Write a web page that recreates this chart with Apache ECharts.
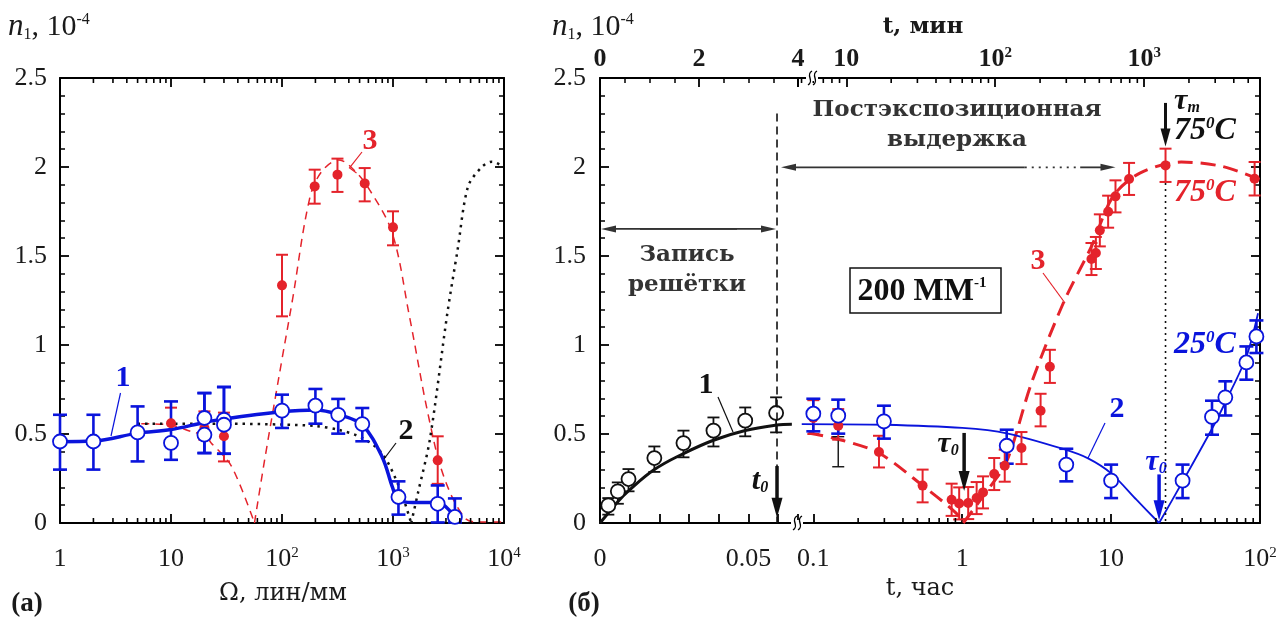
<!DOCTYPE html>
<html>
<head>
<meta charset="utf-8">
<script src="https://cdn.jsdelivr.net/npm/echarts@6/dist/echarts.min.js"></script>
<style>
  html, body { margin: 0; padding: 0; background: #fff; }
  #main { width: 1285px; height: 623px; }
</style>
</head>
<body>
<div id="main"></div>
<script>
// ---------- panel (a): n1 vs spatial frequency, lines/mm ----------
const aBlueX  = [1, 2, 5, 10, 20, 20, 30, 30, 100, 200, 321, 529, 1120, 2528, 3611]
const aBlueY  = [0.458, 0.458, 0.509, 0.45, 0.59, 0.496, 0.58, 0.552, 0.631, 0.659, 0.608, 0.556, 0.146, 0.108, 0.034]
const aBlueLo = [0.30, 0.30, 0.346, 0.355, 0.393, 0.393, 0.389, 0.389, 0.534, 0.558, 0.502, 0.459, 0.047, 0.003, 0.003]
const aBlueHi = [0.608, 0.608, 0.655, 0.683, 0.73, 0.73, 0.764, 0.764, 0.721, 0.753, 0.697, 0.646, 0.234, 0.211, 0.138]

const aRedX  = [10, 20, 30, 100, 197, 316, 556, 1000, 2528]
const aRedY  = [0.56, 0.534, 0.487, 1.335, 1.891, 1.957, 1.908, 1.661, 0.352]
const aRedLo = [0.47, 0.468, 0.346, 1.161, 1.794, 1.86, 1.807, 1.56, 0.22]
const aRedHi = [0.648, 0.627, 0.62, 1.507, 1.985, 2.047, 1.994, 1.751, 0.487]

// curve 1 (blue, solid)
const aFit1X = [1, 2, 5, 10, 20, 30, 100, 200, 321, 529, 800, 990, 1120, 1500, 2528, 3611]
const aFit1Y = [0.457, 0.46, 0.505, 0.525, 0.565, 0.585, 0.625, 0.635, 0.61, 0.55, 0.37, 0.2, 0.13, 0.115, 0.115, 0.033]
// curve 2 (black, dotted) – two branches around the zero
const aFit2LX = [5, 30, 100, 200, 321, 529, 800, 1140, 1459]
const aFit2LY = [0.558, 0.558, 0.553, 0.545, 0.524, 0.478, 0.39, 0.2, 0]
const aFit2RX = [1459, 1680, 2150, 3090, 3820, 4740, 6310, 7800, 10000]
const aFit2RY = [0, 0.17, 0.47, 1.18, 1.535, 1.89, 2.0, 2.03, 2.0]
// curve 3 (red, dashed)
const aFit3LX = [5.4, 10, 15, 20, 23, 35, 56.5]
const aFit3LY = [0.558, 0.55, 0.515, 0.49, 0.45, 0.32, 0]
const aFit3RX = [56.5, 70, 100, 124, 177, 228, 326, 450, 618, 983, 1407, 2088, 2873, 4413, 6000, 10000]
const aFit3RY = [0, 0.36, 0.92, 1.25, 1.82, 1.975, 2.04, 1.98, 1.87, 1.63, 1.16, 0.6, 0.26, 0.03, 0.005, 0.005]

// ---------- panel (б): n1 vs time, hours ----------
// recording stage (linear part)
const bBlackX  = [0.0028, 0.006, 0.0096, 0.0183, 0.0281, 0.0382, 0.0489, 0.0593]
const bBlackY  = [0.099, 0.178, 0.247, 0.365, 0.449, 0.519, 0.575, 0.618]
const bBlackLo = [0.047, 0.108, 0.178, 0.287, 0.369, 0.43, 0.487, 0.509]
const bBlackHi = [0.14, 0.228, 0.303, 0.43, 0.519, 0.593, 0.649, 0.706]
const bFit1X = [0, 0.003, 0.006, 0.0096, 0.0183, 0.0281, 0.0382, 0.0489, 0.0593, 0.0646]
const bFit1Y = [0, 0.06, 0.12, 0.18, 0.3, 0.39, 0.465, 0.52, 0.55, 0.555]

// post-exposure (log part)
const bBlueX  = [0.1, 0.147, 0.298, 1.99, 5.0, 10, 30.2, 47.6, 58.5, 81, 94.6]
const bBlueY  = [0.614, 0.603, 0.571, 0.434, 0.328, 0.238, 0.238, 0.596, 0.706, 0.902, 1.048]
const bBlueLo = [0.515, 0.502, 0.474, 0.333, 0.234, 0.14, 0.14, 0.496, 0.604, 0.805, 0.955]
const bBlueHi = [0.698, 0.693, 0.659, 0.524, 0.417, 0.328, 0.328, 0.687, 0.796, 0.992, 1.138]

const bRedX  = [0.1, 0.147, 0.276, 0.542, 0.849, 0.954, 1.097, 1.25, 1.38, 1.64, 1.93, 2.5, 3.36, 3.88, 7.38, 7.9, 8.4, 9.55, 10.7, 13.2, 23.2, 92]
const bRedY  = [0.59, 0.547, 0.399, 0.21, 0.131, 0.11, 0.112, 0.14, 0.172, 0.275, 0.322, 0.421, 0.631, 0.878, 1.483, 1.517, 1.644, 1.749, 1.835, 1.933, 2.009, 1.934]
const bRedLo = [0.5, 0.468, 0.312, 0.116, 0.04, 0.02, 0.022, 0.05, 0.082, 0.185, 0.232, 0.331, 0.543, 0.787, 1.393, 1.427, 1.554, 1.659, 1.745, 1.843, 1.916, 1.84]
const bRedHi = [0.69, 0.64, 0.49, 0.3, 0.221, 0.2, 0.202, 0.23, 0.262, 0.365, 0.412, 0.511, 0.726, 0.973, 1.573, 1.607, 1.734, 1.839, 1.925, 2.023, 2.103, 2.028]

const bGreyBarX = [0.147], bGreyBarLo = [0.316], bGreyBarHi = [0.485]

const bFit2LX = [0.0836, 0.3, 1, 1.99, 4.76, 7.0, 10, 14.8, 21]
const bFit2LY = [0.556, 0.552, 0.534, 0.504, 0.416, 0.363, 0.279, 0.131, 0]
const bFit2RX = [21, 30.2, 48.4, 59.5, 81, 97]
const bFit2RY = [0, 0.232, 0.541, 0.691, 0.934, 1.178]

const bFit3LX = [0.0926, 0.151, 0.276, 0.55, 0.91, 1.016]
const bFit3LY = [0.506, 0.468, 0.393, 0.206, 0.056, 0]
const bFit3RX = [1.016, 1.46, 1.99, 2.92, 4.8, 7.38, 10.3, 15.6, 29.6, 56, 100]
const bFit3RY = [0, 0.178, 0.346, 0.787, 1.24, 1.554, 1.835, 1.966, 2.028, 2.003, 1.929]

// minor tick positions for the log axes
const aMinorTicks = [2, 3, 4, 5, 6, 7, 8, 9, 20, 30, 40, 50, 60, 70, 80, 90,
  200, 300, 400, 500, 600, 700, 800, 900, 2000, 3000, 4000, 5000, 6000, 7000, 8000, 9000]
const bMinorTicksH = [0.2, 0.3, 0.4, 0.5, 0.6, 0.7, 0.8, 0.9, 2, 3, 4, 5, 6, 7, 8, 9, 20, 30, 40, 50, 60, 70, 80, 90]
const bMinorTicksMin = [5, 6, 7, 8, 9, 20, 30, 40, 50, 60, 70, 80, 90, 200, 300, 400, 500, 600, 700, 800, 900, 2000, 3000, 4000, 5000]

const BLUE = "#0a14dc"
const RED = "#e4232b"
const BLACK = "#111111"
const SERIF = "Liberation Serif"
const WIDE = "DejaVu Serif"

const zip = (xs, ys) => xs.map((x, i) => [x, ys[i]])
const zip3 = (xs, lo, hi) => xs.map((x, i) => [x, lo[i], hi[i]])

function errRender(color, w, cap) {
  return function (params, api) {
    const x = api.value(0)
    const top = api.coord([x, api.value(2)])
    const bot = api.coord([x, api.value(1)])
    const st = { stroke: color, lineWidth: w }
    return {
      type: "group",
      children: [
        { type: "line", shape: { x1: top[0], y1: top[1], x2: bot[0], y2: bot[1] }, style: st },
        { type: "line", shape: { x1: top[0] - cap, y1: top[1], x2: top[0] + cap, y2: top[1] }, style: st },
        { type: "line", shape: { x1: bot[0] - cap, y1: bot[1], x2: bot[0] + cap, y2: bot[1] }, style: st }
      ]
    }
  }
}

function tickRender(yVal, dir) {
  return function (params, api) {
    const p = api.coord([api.value(0), yVal])
    return {
      type: "line",
      shape: { x1: p[0], y1: p[1], x2: p[0], y2: p[1] + dir * 5 },
      style: { stroke: "#000", lineWidth: 1.6 }
    }
  }
}

function logLabel(v) {
  const k = Math.round(Math.log10(v))
  if (Math.abs(Math.log10(v) - k) > 1e-6) return ""
  if (k === -1) return "0.1"
  if (k === 0) return "1"
  if (k === 1) return "10"
  return "10{s|" + k + "}"
}

const axisLineStyle = { lineStyle: { color: "#000", width: 2 } }
const tickIn = { inside: true, length: 9, lineStyle: { color: "#000", width: 1.8 } }
const minorIn = { show: true, splitNumber: 5, length: 5, lineStyle: { color: "#000", width: 1.5 } }
const labelFont = { fontFamily: SERIF, fontSize: 26, color: "#1a1a1a" }
const supRich = { s: { fontFamily: SERIF, fontSize: 15, verticalAlign: "top", color: "#1a1a1a" } }
const supRichBold = { s: { fontFamily: SERIF, fontSize: 15, fontWeight: "bold", verticalAlign: "top", color: "#1a1a1a" } }

const xAxes = [
  // 0: (a) bottom
  { type: "log", gridIndex: 0, min: 1, max: 10000, position: "bottom",
    axisLine: { onZero: false, ...axisLineStyle }, axisTick: tickIn, splitLine: { show: false },
    axisLabel: { ...labelFont, margin: 23, formatter: logLabel, rich: supRich } },
  // 1: (a) top
  { type: "log", gridIndex: 0, min: 1, max: 10000, position: "top",
    axisLine: { onZero: false, ...axisLineStyle }, axisTick: tickIn, splitLine: { show: false },
    axisLabel: { show: false } },
  // 2: (б) bottom, linear hours
  { type: "value", gridIndex: 1, min: 0, max: 4 / 60, interval: 0.01, position: "bottom",
    axisLine: { onZero: false, ...axisLineStyle }, axisTick: tickIn, splitLine: { show: false },
    axisLabel: { ...labelFont, margin: 23, showMaxLabel: false,
      formatter: v => (v === 0 ? "0" : Math.abs(v - 0.05) < 1e-9 ? "0.05" : "") } },
  // 3: (б) top, linear minutes
  { type: "value", gridIndex: 1, min: 0, max: 4, interval: 2, position: "top",
    axisLine: { onZero: false, ...axisLineStyle }, axisTick: tickIn,
    minorTick: { ...minorIn, splitNumber: 4 }, splitLine: { show: false },
    axisLabel: { ...labelFont, fontWeight: "bold", margin: 6 } },
  // 4: (б) bottom, log hours
  { type: "log", gridIndex: 2, min: 0.0789, max: 100, position: "bottom",
    axisLine: { onZero: false, ...axisLineStyle }, axisTick: tickIn, splitLine: { show: false },
    axisLabel: { ...labelFont, margin: 23, interval: 0, formatter: logLabel, rich: supRich } },
  // 5: (б) top, log minutes
  { type: "log", gridIndex: 2, min: 0.0789 * 60, max: 6000, position: "top",
    axisLine: { onZero: false, ...axisLineStyle }, axisTick: tickIn, splitLine: { show: false },
    axisLabel: { ...labelFont, fontWeight: "bold", margin: 6, interval: 0,
      formatter: v => { const t = logLabel(v); return t === "1" ? "" : t }, rich: supRichBold } }
]

const yBase = { type: "value", min: 0, max: 2.5, interval: 0.5, splitLine: { show: false },
  axisLine: { show: true, onZero: false, ...axisLineStyle }, axisTick: tickIn, minorTick: minorIn }
const yAxes = [
  { ...yBase, gridIndex: 0, position: "left", axisLabel: { ...labelFont, margin: 13 } },
  { ...yBase, gridIndex: 0, position: "right", axisLabel: { show: false } },
  { ...yBase, gridIndex: 1, position: "left", axisLabel: { ...labelFont, margin: 14 } },
  { ...yBase, gridIndex: 2, position: "right", axisLabel: { show: false } }
]

function line(id, xi, yi, data, color, width, type, smooth) {
  return { id, type: "line", xAxisIndex: xi, yAxisIndex: yi, data, symbol: "none", smooth: smooth,
    lineStyle: { color, width, type }, silent: true, z: 2 }
}
function bars(xi, yi, data, color, w, cap) {
  return { type: "custom", xAxisIndex: xi, yAxisIndex: yi, data, renderItem: errRender(color, w, cap),
    encode: { x: 0, y: [1, 2] }, clip: false, silent: true, z: 3 }
}
function openPts(xi, yi, data, color, size) {
  return { type: "scatter", xAxisIndex: xi, yAxisIndex: yi, data, symbol: "circle", symbolSize: size,
    itemStyle: { color: "#fff", borderColor: color, borderWidth: 1.8, opacity: 1 }, silent: true, z: 5 }
}
function dotPts(xi, yi, data, color, size) {
  return { type: "scatter", xAxisIndex: xi, yAxisIndex: yi, data, symbol: "circle", symbolSize: size,
    itemStyle: { color, opacity: 1 }, silent: true, z: 5 }
}
function ticks(xi, yi, vals, yVal, dir) {
  return { type: "custom", xAxisIndex: xi, yAxisIndex: yi, data: vals.map(v => [v, yVal]),
    renderItem: tickRender(yVal, dir), encode: { x: 0, y: 1 }, clip: false, silent: true, z: 6 }
}

const series = [
  // panel (a)
  line("aRef", 0, 0, zip(aFit3LX, aFit3LY), RED, 1.5, [8, 6], 0.3),
  line(null, 0, 0, zip(aFit3RX, aFit3RY), RED, 1.5, [8, 6], 0.35),
  line(null, 0, 0, zip(aFit2LX, aFit2LY), BLACK, 2.5, [2.5, 5], 0.3),
  line(null, 0, 0, zip(aFit2RX, aFit2RY), BLACK, 2.5, [2.5, 5], 0.3),
  line(null, 0, 0, zip(aFit1X, aFit1Y), BLUE, 3.5, "solid", 0.35),
  bars(0, 0, zip3(aRedX, aRedLo, aRedHi), RED, 2, 6),
  bars(0, 0, zip3(aBlueX, aBlueLo, aBlueHi), BLUE, 2.6, 7),
  dotPts(0, 0, zip(aRedX, aRedY), RED, 10),
  openPts(0, 0, zip(aBlueX, aBlueY), BLUE, 14),
  ticks(0, 0, aMinorTicks, 0, -1),
  ticks(1, 0, aMinorTicks, 2.5, 1),
  // panel (б), linear part
  line("b1Ref", 2, 2, zip(bFit1X, bFit1Y), BLACK, 3, "solid", 0.4),
  bars(2, 2, zip3(bBlackX, bBlackLo, bBlackHi), BLACK, 1.8, 6),
  openPts(2, 2, zip(bBlackX, bBlackY), BLACK, 14),
  // panel (б), log part
  line("b2Ref", 4, 3, zip(bFit3LX, bFit3LY), RED, 3, [15, 8], 0.3),
  line(null, 4, 3, zip(bFit3RX, bFit3RY), RED, 3, [15, 8], 0.3),
  line(null, 4, 3, zip(bFit2LX, bFit2LY), BLUE, 1.8, "solid", 0.3),
  line(null, 4, 3, zip(bFit2RX, bFit2RY), BLUE, 1.8, "solid", 0.3),
  bars(4, 3, zip3(bGreyBarX, bGreyBarLo, bGreyBarHi), BLACK, 1.4, 6),
  bars(4, 3, zip3(bRedX, bRedLo, bRedHi), RED, 2, 6),
  bars(4, 3, zip3(bBlueX, bBlueLo, bBlueHi), BLUE, 2.6, 7),
  dotPts(4, 3, zip(bRedX, bRedY), RED, 10),
  openPts(4, 3, zip(bBlueX, bBlueY), BLUE, 14),
  ticks(4, 3, bMinorTicksH, 0, -1),
  ticks(5, 3, bMinorTicksMin, 2.5, 1)
]

const chart = echarts.init(document.getElementById("main"), null, { renderer: "canvas" })
chart.setOption({
  animation: false,
  backgroundColor: "#fff",
  grid: [
    { left: 60, top: 78, width: 444, height: 445 },
    { left: 600, top: 78, width: 198, height: 445 },
    { left: 798, top: 78, width: 462, height: 445 }
  ],
  xAxis: xAxes,
  yAxis: yAxes,
  series: series
})

// ---------- annotations ----------
const P = (id, x, y) => chart.convertToPixel({ seriesId: id }, [x, y])

function txt(x, y, text, font, fill, rich, align) {
  return { type: "text", x, y, z: 100, silent: true,
    style: { text, font, fill: fill || "#1a1a1a", rich,
      textAlign: align || "center", textVerticalAlign: "middle",
      align: align || "center", verticalAlign: "middle" } }
}
function seg(x1, y1, x2, y2, color, w, dash) {
  return { type: "line", z: 100, silent: true, shape: { x1, y1, x2, y2 },
    style: { stroke: color, lineWidth: w, lineDash: dash || null } }
}
function head(x1, y1, x2, y2, color, len, wid) {
  const a = Math.atan2(y2 - y1, x2 - x1)
  const bx = x2 - len * Math.cos(a), by = y2 - len * Math.sin(a)
  const px = -Math.sin(a) * wid / 2, py = Math.cos(a) * wid / 2
  return { type: "polygon", z: 100, silent: true,
    shape: { points: [[x2, y2], [bx + px, by + py], [bx - px, by - py]] }, style: { fill: color } }
}
function arrow(x1, y1, x2, y2, color, w, len, wid) {
  const a = Math.atan2(y2 - y1, x2 - x1)
  return [seg(x1, y1, x2 - (len - 2) * Math.cos(a), y2 - (len - 2) * Math.sin(a), color, w), head(x1, y1, x2, y2, color, len, wid)]
}
function breakMark(x, y) {
  const s = { stroke: "#000", lineWidth: 1.4, fill: null }
  const mk = dx => ({ type: "bezierCurve", z: 101, silent: true,
    shape: { x1: x + dx - 2, y1: y + 7, x2: x + dx + 2, y2: y - 7, cpx1: x + dx + 5, cpy1: y + 3, cpx2: x + dx - 5, cpy2: y - 3 }, style: s })
  return [{ type: "rect", z: 100, silent: true, shape: { x: x - 4, y: y - 3, width: 12, height: 6 }, style: { fill: "#fff" } }, mk(0), mk(5)]
}

const n1Rich = {
  n: { fontFamily: SERIF, fontStyle: "italic", fontSize: 31, fill: "#1a1a1a" },
  sub: { fontFamily: SERIF, fontSize: 16, verticalAlign: "bottom", fill: "#1a1a1a" },
  b: { fontFamily: SERIF, fontSize: 30, fill: "#1a1a1a" },
  sup: { fontFamily: SERIF, fontSize: 16, verticalAlign: "top", fill: "#1a1a1a" }
}
const tauRich = c => ({
  t: { fontFamily: SERIF, fontStyle: "italic", fontWeight: "bold", fontSize: 30, fill: c },
  sub: { fontFamily: SERIF, fontStyle: "italic", fontWeight: "bold", fontSize: 16, verticalAlign: "bottom", fill: c }
})
const degRich = c => ({
  d: { fontFamily: SERIF, fontStyle: "italic", fontWeight: "bold", fontSize: 32, fill: c },
  s: { fontFamily: SERIF, fontStyle: "italic", fontWeight: "bold", fontSize: 17, verticalAlign: "top", fill: c }
})

const t0 = 0.0596
const pT0Top = P("b1Ref", t0, 2.3), pT0Bot = P("b1Ref", t0, 0)
const pRecL = P("b1Ref", 0, 1.652), pRecR = P("b1Ref", t0, 1.652)
const pPostL = P("b1Ref", t0, 1.998)
const pPostSolid = P("b2Ref", 2.63, 1.998), pPostDot = P("b2Ref", 6.2, 1.998), pPostTip = P("b2Ref", 10.7, 1.998)
const pTauBlackA = P("b2Ref", 1.03, 0.506), pTauBlackB = P("b2Ref", 1.03, 0.18)
const pTauBlueA = P("b2Ref", 21, 0.273), pTauBlueB = P("b2Ref", 21, 0.015)
const pTauMA = P("b2Ref", 23.2, 2.36), pTauMB = P("b2Ref", 23.2, 2.115)
const pTauMLineTop = P("b2Ref", 23.2, 1.91), pTauMLineBot = P("b2Ref", 23.2, 0)
const pT0ArrA = P("b1Ref", t0, 0.32), pT0ArrB = P("b1Ref", t0, 0.03)

const graphic = [
  // panel (a) texts
  txt(8, 27, "{n|n}{sub|1}{b|, 10}{sup|-4}", null, null, n1Rich, "left"),
  txt(283, 594, "Ω, лин/мм", '24px "' + WIDE + '"'),
  txt(27, 604, "(a)", 'bold 27px "' + SERIF + '"'),
  txt(123, 378, "1", 'bold 30px "' + SERIF + '"', BLUE),
  seg(120.5, 393, 111, 436, BLUE, 1.2),
  txt(406, 431, "2", 'bold 30px "' + SERIF + '"', BLACK),
  seg(396, 443, 384, 459, BLACK, 1.2),
  txt(370, 141, "3", 'bold 30px "' + SERIF + '"', RED),
  { type: "polyline", z: 100, silent: true, shape: { points: [[362, 152], [349.5, 168], [356.5, 173]] },
    style: { stroke: RED, lineWidth: 1.2, fill: null } },

  // panel (б) texts
  txt(552, 27, "{n|n}{sub|1}{b|, 10}{sup|-4}", null, null, n1Rich, "left"),
  txt(923, 27, "t, мин", 'bold 23px "' + WIDE + '"'),
  txt(920, 589, "t, час", '24px "' + WIDE + '"'),
  txt(584, 604, "(б)", 'bold 27px "' + SERIF + '"'),
  txt(687, 255, "Запись", 'bold 23px "' + WIDE + '"', "#333"),
  txt(687, 285, "решётки", 'bold 23px "' + WIDE + '"', "#333"),
  txt(957, 110, "Постэкспозиционная", 'bold 23px "' + WIDE + '"', "#333"),
  txt(957, 140, "выдержка", 'bold 23px "' + WIDE + '"', "#333"),
  { type: "rect", z: 99, silent: true, shape: { x: 850, y: 268, width: 151, height: 45 },
    style: { fill: "#fff", stroke: "#111", lineWidth: 1.5 } },
  txt(922, 292, "{a|200 ММ}{s|-1}", null, null, {
    a: { fontFamily: SERIF, fontWeight: "bold", fontSize: 32, fill: "#111" },
    s: { fontFamily: SERIF, fontWeight: "bold", fontSize: 15, verticalAlign: "top", fill: "#111" } }),
  txt(706, 385, "1", 'bold 30px "' + SERIF + '"', BLACK),
  seg(718, 397, 733, 432, BLACK, 1.2),
  txt(1117, 409, "2", 'bold 30px "' + SERIF + '"', BLUE),
  seg(1105, 423, 1088, 458, BLUE, 1.2),
  txt(1038, 261, "3", 'bold 30px "' + SERIF + '"', RED),
  seg(1043, 273, 1065, 303, RED, 1.2),
  txt(760, 481, "{t|t}{sub|0}", null, null, tauRich(BLACK)),
  txt(948, 444, "{t|τ}{sub|0}", null, null, tauRich(BLACK)),
  txt(1156, 462, "{t|τ}{sub|0}", null, null, tauRich(BLUE)),
  txt(1187, 101, "{t|τ}{sub|m}", null, null, tauRich(BLACK)),
  txt(1205, 131, "{d|75}{s|0}{d|C}", null, null, degRich(BLACK)),
  txt(1205, 193, "{d|75}{s|0}{d|C}", null, null, degRich(RED)),
  txt(1205, 345, "{d|25}{s|0}{d|C}", null, null, degRich(BLUE)),

  // guide lines
  seg(pT0Top[0], pT0Top[1], pT0Bot[0], pT0Bot[1], BLACK, 1.6, [8, 5]),
  seg(pTauMLineTop[0], pTauMLineTop[1], pTauMLineBot[0], pTauMLineBot[1], BLACK, 1.6, [2, 4]),
  seg(pPostSolid[0], pPostSolid[1], pPostDot[0], pPostDot[1], "#333", 1.8, [2, 5]),
  ...arrow(pPostSolid[0], pPostSolid[1], pPostL[0] + 4, pPostL[1], "#333", 1.8, 15, 7),
  ...arrow(pPostDot[0], pPostDot[1], pPostTip[0], pPostTip[1], "#333", 1.8, 15, 7),
  ...arrow(pRecR[0] - 40, pRecR[1], pRecL[0] + 1, pRecL[1], "#333", 1.8, 15, 7),
  ...arrow(pRecL[0] + 40, pRecL[1], pRecR[0] - 1, pRecR[1], "#333", 1.8, 15, 7),
  ...arrow(pT0ArrA[0], pT0ArrA[1], pT0ArrB[0], pT0ArrB[1], BLACK, 3.5, 20, 11),
  ...arrow(pTauBlackA[0], pTauBlackA[1], pTauBlackB[0], pTauBlackB[1], BLACK, 3.5, 20, 11),
  ...arrow(pTauBlueA[0], pTauBlueA[1], pTauBlueB[0], pTauBlueB[1], BLUE, 3.5, 20, 11),
  ...arrow(pTauMA[0], pTauMA[1], pTauMB[0], pTauMB[1], BLACK, 3, 18, 10),

  // axis breaks
  ...breakMark(795, 523),
  ...breakMark(810, 78)
]
chart.setOption({ graphic })
</script>
</body>
</html>
